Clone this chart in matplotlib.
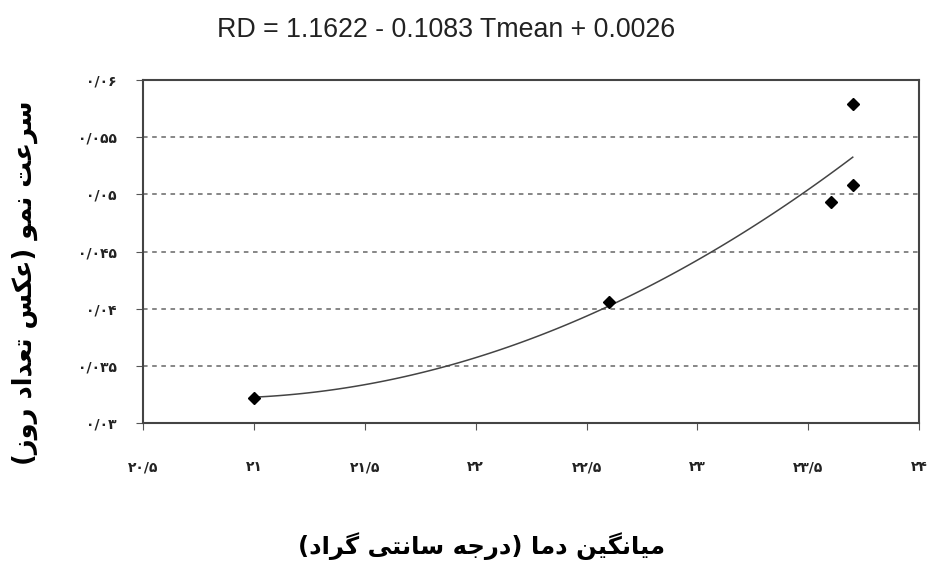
import matplotlib
matplotlib.use("Agg")
import matplotlib.pyplot as plt
import numpy as np

# data
tmean = [21.0, 22.6, 23.6, 23.7, 23.7]
rd = [0.0322, 0.0406, 0.0493, 0.0508, 0.0579]

xticks = [20.5, 21, 21.5, 22, 22.5, 23, 23.5, 24]
xtick_labels = ["۲۰/۵", "۲۱", "۲۱/۵", "۲۲", "۲۲/۵", "۲۳", "۲۳/۵", "۲۴"]
yticks = [0.03, 0.035, 0.04, 0.045, 0.05, 0.055, 0.06]
ytick_labels = ["۰/۰۳", "۰/۰۳۵", "۰/۰۴", "۰/۰۴۵", "۰/۰۵", "۰/۰۵۵", "۰/۰۶"]

title = "RD = 1.1622 - 0.1083 Tmean + 0.0026"
xlabel = "میانگین دما (درجه سانتی گراد)"
ylabel = "سرعت نمو (عکس تعداد روز)"

# arabic presentation forms: isolated, final, initial, medial
FORMS = {
    'ا': ('\uFE8D', '\uFE8E', None, None),
    'د': ('\uFEA9', '\uFEAA', None, None),
    'ر': ('\uFEAD', '\uFEAE', None, None),
    'ز': ('\uFEAF', '\uFEB0', None, None),
    'و': ('\uFEED', '\uFEEE', None, None),
    'ت': ('\uFE95', '\uFE96', '\uFE97', '\uFE98'),
    'ج': ('\uFE9D', '\uFE9E', '\uFE9F', '\uFEA0'),
    'س': ('\uFEB1', '\uFEB2', '\uFEB3', '\uFEB4'),
    'ع': ('\uFEC9', '\uFECA', '\uFECB', '\uFECC'),
    'م': ('\uFEE1', '\uFEE2', '\uFEE3', '\uFEE4'),
    'ن': ('\uFEE5', '\uFEE6', '\uFEE7', '\uFEE8'),
    'ه': ('\uFEE9', '\uFEEA', '\uFEEB', '\uFEEC'),
    'ک': ('\uFB8E', '\uFB8F', '\uFB90', '\uFB91'),
    'گ': ('\uFB92', '\uFB93', '\uFB94', '\uFB95'),
    'ی': ('\uFBFC', '\uFBFD', '\uFBFE', '\uFBFF'),
}
MIRROR = {'(': ')', ')': '('}


def shape(text):
    out = []
    for i, c in enumerate(text):
        if c not in FORMS:
            out.append(MIRROR.get(c, c))
            continue
        prev = text[i - 1] if i > 0 else ''
        nxt = text[i + 1] if i + 1 < len(text) else ''
        jp = prev in FORMS and FORMS[prev][2] is not None
        jn = FORMS[c][2] is not None and nxt in FORMS
        iso, fin, ini, med = FORMS[c]
        if jp and jn:
            out.append(med)
        elif jp:
            out.append(fin)
        elif jn:
            out.append(ini)
        else:
            out.append(iso)
    return ''.join(reversed(out))


fig = plt.figure(figsize=(9.33, 5.72), dpi=100)
ax = fig.add_axes([0.1533, 0.2605, 0.832, 0.5996])

# second order trendline like the excel one
coef = np.polyfit(tmean, rd, 2)
xs = np.linspace(min(tmean), max(tmean), 100)
ax.plot(xs, np.polyval(coef, xs), color='#444444', lw=1.1)
ax.plot(tmean, rd, 'D', color='black', markersize=6)

ax.set_xlim(20.5, 24)
ax.set_ylim(0.03, 0.06)
ax.set_xticks(xticks)
ax.set_xticklabels(xtick_labels, fontsize=10, fontweight='bold', color='#222222')
ax.set_yticks(yticks)
ax.set_yticklabels(ytick_labels, fontsize=10, fontweight='bold', color='#222222')
ax.tick_params(axis='x', length=5, pad=22, color='#555555')
ax.tick_params(axis='y', length=5, pad=14, color='#555555')
ax.grid(axis='y', linestyle=(0, (3, 3)), color='#666666', lw=1.1)
for s in ax.spines.values():
    s.set_color('#444444')
    s.set_linewidth(1.5)

fig.text(0.478, 0.948, title, ha='center', va='center', fontsize=19.3,
         family='Liberation Sans', color='#222222')
fig.text(0.027, 0.505, shape(ylabel), rotation=90, ha='center', va='center',
         fontsize=18.5, fontweight='bold')
fig.text(0.516, 0.045, shape(xlabel), ha='center', va='center',
         fontsize=17.5, fontweight='bold')

fig.savefig('out.png', dpi=100)
